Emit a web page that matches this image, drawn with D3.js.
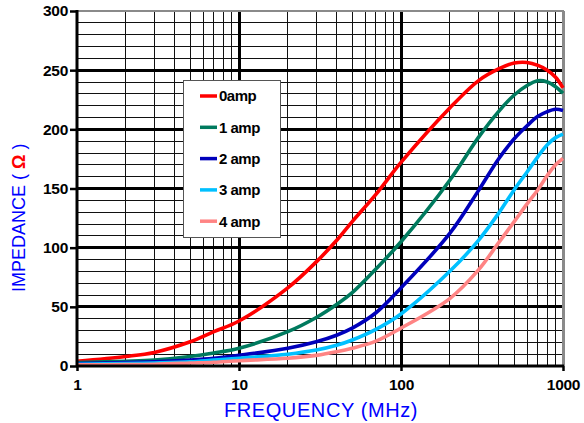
<!DOCTYPE html>
<html>
<head>
<meta charset="utf-8">
<script src="https://cdn.jsdelivr.net/npm/d3@7"></script>
<style>
  body { margin: 0; background: #fff; }
  svg { display: block; font-family: Arial, "Liberation Sans", sans-serif; }
</style>
</head>
<body>
<div id="root"></div>
<script>
// data
const freqs = [1, 2, 3, 5, 7, 10, 20, 30, 40, 50, 70, 100, 200, 300, 400, 500, 600, 700, 800, 900, 1000];
const amp0 = [4, 8, 11.5, 20.5, 29, 38, 66, 88, 106, 122, 145, 172, 218, 241, 251, 256, 256.5, 254, 250, 244, 235];
const amp1 = [3, 4, 5, 8, 11, 15, 29, 41, 52, 62, 82, 105, 157, 193, 215, 229, 237, 241, 240, 236, 230.5];
const amp2 = [2, 3, 3.5, 5, 6.5, 9, 15, 20.5, 26, 32, 45, 66, 112, 148, 175, 192, 203, 211, 215, 217, 216];
const amp3 = [1.5, 2, 2.5, 3.5, 5, 6.5, 10, 13.5, 17.5, 22, 31, 44, 80, 106, 129, 149, 164, 177, 187, 193, 196];
const amp4 = [1, 1.2, 1.5, 2.5, 3.2, 4.5, 6.5, 9, 12, 15, 21, 32, 57, 81, 104, 122, 137, 149, 161, 170, 175.5];
const seriesNames = ['0amp', '1 amp', '2 amp', '3 amp', '4 amp'];
const seriesValues = [amp0, amp1, amp2, amp3, amp4];
const colors = ['#ff0000', '#007a5e', '#0000bb', '#00c0ff', '#ff8484'];
const yTicks = [0, 50, 100, 150, 200, 250, 300];
const xTicks = [1, 10, 100, 1000];

class ImpedanceChart {
  constructor(w, h) {
    this.w = w;
    this.h = h;
    this.init();
    this.setScales();
    this.render();
  }

  init() {
    this.svg = d3.select('#root')
      .append('svg')
      .attr('width', this.w)
      .attr('height', this.h);
    this.svg.append('rect')
      .attr('width', this.w)
      .attr('height', this.h)
      .attr('fill', '#fff');
  }

  setScales() {
    this.x = d3.scaleLog().domain([1, 1000]).range([77, 563]);
    this.y = d3.scaleLinear().domain([0, 300]).range([366, 11]);
    return this;
  }

  drawGrid() {
    let g = this.svg.append('g').attr('shape-rendering', 'crispEdges');
    let [x0, x1] = this.x.range();
    let [y0, y1] = this.y.range();
    let minorY = d3.range(10, 300, 10).filter(v => v % 50 != 0);
    let minorX = [];
    [1, 10, 100].forEach(d => {
      for (let k = 2; k <= 9; k++) minorX.push(d * k);
    });

    g.selectAll('.hmin').data(minorY).enter().append('line')
      .attr('x1', x0).attr('x2', x1)
      .attr('y1', d => this.y(d)).attr('y2', d => this.y(d))
      .attr('stroke', '#111').attr('stroke-width', 1);
    g.selectAll('.vmin').data(minorX).enter().append('line')
      .attr('x1', d => this.x(d)).attr('x2', d => this.x(d))
      .attr('y1', y0).attr('y2', y1)
      .attr('stroke', '#111').attr('stroke-width', 1);
    g.selectAll('.hmaj').data([50, 100, 150, 200, 250]).enter().append('line')
      .attr('x1', x0).attr('x2', x1)
      .attr('y1', d => this.y(d)).attr('y2', d => this.y(d))
      .attr('stroke', '#000').attr('stroke-width', 3);
    g.selectAll('.vmaj').data([10, 100]).enter().append('line')
      .attr('x1', d => this.x(d)).attr('x2', d => this.x(d))
      .attr('y1', y0).attr('y2', y1)
      .attr('stroke', '#000').attr('stroke-width', 3);

    // frame: grey top/right, black left/bottom
    g.append('line').attr('x1', x0).attr('x2', x1 + 1).attr('y1', y1).attr('y2', y1)
      .attr('stroke', '#8a8a8a').attr('stroke-width', 2);
    g.append('line').attr('x1', x1).attr('x2', x1).attr('y1', y1).attr('y2', y0)
      .attr('stroke', '#8a8a8a').attr('stroke-width', 3);
    return this;
  }

  drawAxes() {
    let [x0, x1] = this.x.range();
    let [y0, y1] = this.y.range();
    let yAxis = d3.axisLeft(this.y).tickValues(yTicks).tickSize(7).tickPadding(2);
    let xAxis = d3.axisBottom(this.x).tickValues(xTicks).tickSize(5).tickPadding(8)
      .tickFormat(d3.format('d'));

    let ga = this.svg.append('g').attr('transform', `translate(${x0},0)`).call(yAxis);
    let gb = this.svg.append('g').attr('transform', `translate(0,${y0})`).call(xAxis);
    [ga, gb].forEach(g => {
      g.select('.domain').remove();
      g.selectAll('.tick line').attr('stroke', '#000').attr('stroke-width', 2.5);
      g.selectAll('.tick text')
        .attr('fill', '#000')
        .attr('font-family', 'Arial, "Liberation Sans", sans-serif')
        .attr('font-size', 15.5)
        .attr('font-weight', 'bold')
        .attr('letter-spacing', -0.3);
    });

    this.svg.append('line').attr('x1', x0).attr('x2', x0).attr('y1', y1 - 1).attr('y2', y0 + 1)
      .attr('stroke', '#000').attr('stroke-width', 3);
    this.svg.append('line').attr('x1', x0 - 1).attr('x2', x1 + 1).attr('y1', y0).attr('y2', y0)
      .attr('stroke', '#000').attr('stroke-width', 3);
    return this;
  }

  drawLines() {
    let line = d3.line()
      .x((d, i) => this.x(freqs[i]))
      .y(d => this.y(d))
      .curve(d3.curveCatmullRom.alpha(0.5));
    this.svg.append('g').selectAll('path')
      .data(seriesValues)
      .enter()
      .append('path')
      .attr('d', d => line(d))
      .attr('fill', 'none')
      .attr('stroke', (d, i) => colors[i])
      .attr('stroke-width', 3.6)
      .attr('stroke-linejoin', 'round');
    return this;
  }

  drawLegend() {
    let lg = this.svg.append('g');
    lg.append('rect')
      .attr('x', 183.5).attr('y', 80.5)
      .attr('width', 97).attr('height', 157)
      .attr('fill', '#fff')
      .attr('stroke', '#555')
      .attr('stroke-width', 1);
    let items = lg.selectAll('.item')
      .data(seriesNames)
      .enter()
      .append('g')
      .attr('transform', (d, i) => `translate(0,${96 + i * 31.3})`);
    items.append('line')
      .attr('x1', 200).attr('x2', 217)
      .attr('stroke', (d, i) => colors[i])
      .attr('stroke-width', 3.5);
    items.append('text')
      .attr('x', 219)
      .attr('dy', '0.36em')
      .attr('font-size', 15)
      .attr('font-weight', 'bold')
      .attr('letter-spacing', -0.5)
      .text(d => d);
    return this;
  }

  drawTitles() {
    this.svg.append('text')
      .attr('x', 321)
      .attr('y', 417)
      .attr('text-anchor', 'middle')
      .attr('fill', '#0000ff')
      .attr('font-size', 20)
      .attr('letter-spacing', 0.6)
      .text('FREQUENCY (MHz)');

    let t = this.svg.append('text')
      .attr('transform', 'translate(25,292) rotate(-90)')
      .attr('fill', '#0000ff')
      .attr('font-size', 18);
    t.append('tspan').text('IMPEDANCE ( ');
    t.append('tspan').attr('fill', '#ff0000').attr('font-weight', 'bold').text('\u03A9');
    t.append('tspan').text(' )');
    return this;
  }

  render() {
    this
      .drawGrid()
      .drawLines()
      .drawLegend()
      .drawAxes()
      .drawTitles();
  }
}

new ImpedanceChart(584, 423);
</script>
</body>
</html>
